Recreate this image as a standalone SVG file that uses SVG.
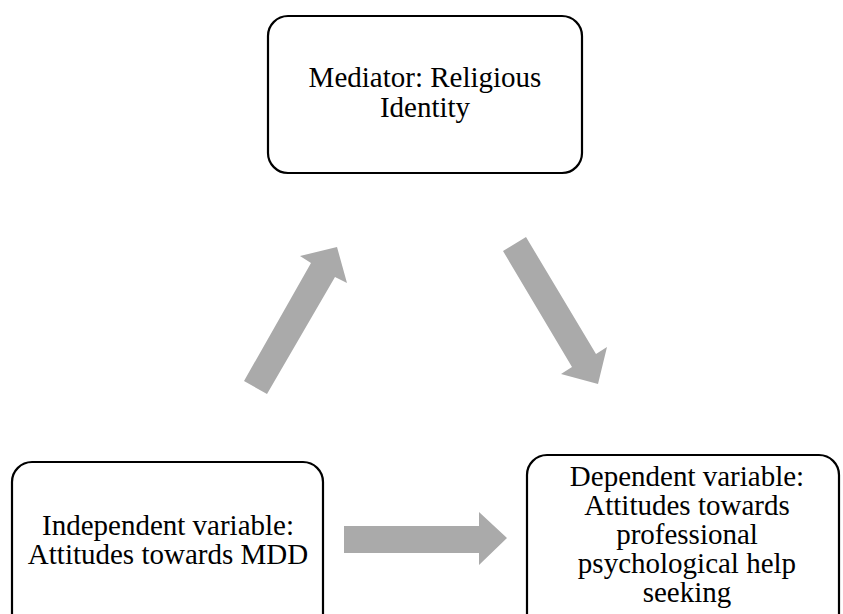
<svg xmlns="http://www.w3.org/2000/svg" width="843" height="614" viewBox="0 0 843 614">
<style>
.box{fill:#fff;stroke:#000;stroke-width:2.2}
.t{font-family:"Liberation Serif","Times New Roman",serif;font-size:29px;fill:#000;text-anchor:middle}
.arr{fill:#aaaaaa}
</style>
<rect width="843" height="614" fill="#fff"/>
<g id="connectors">
<polygon class="arr" points="244,381 311,263 300,256 337,247 347,283 335,277 267,394"/>
<polygon class="arr" points="503,251 526,237 596,354 607,347 598,384 561,374 572,367"/>
<polygon class="arr" points="344,526 479,526 479,512 507,538 479,565 479,553 344,553"/>
</g>
<g id="mediator">
<rect class="box" x="268" y="16" width="314" height="157" rx="20"/>
<text class="t" x="425" y="87">Mediator: Religious</text>
<text class="t" x="425" y="117">Identity</text>
</g>
<g id="independent">
<rect class="box" x="12" y="462" width="311" height="175" rx="20"/>
<text class="t" x="168" y="535">Independent variable:</text>
<text class="t" x="168" y="564">Attitudes towards MDD</text>
</g>
<g id="dependent">
<rect class="box" x="527" y="455" width="312" height="185" rx="20"/>
<text class="t" x="687" y="486">Dependent variable:</text>
<text class="t" x="687" y="515">Attitudes towards</text>
<text class="t" x="687" y="544">professional</text>
<text class="t" x="687" y="573">psychological help</text>
<text class="t" x="687" y="602">seeking</text>
</g>
</svg>
